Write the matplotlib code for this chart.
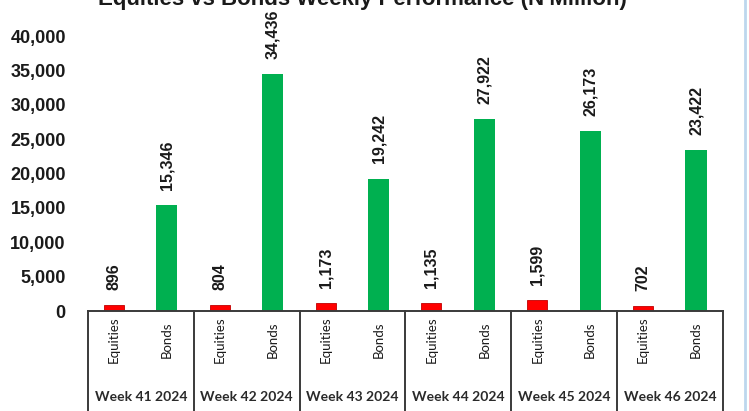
import matplotlib.pyplot as plt
import matplotlib.transforms as mtransforms

# ------------------------------------ Data ------------------------------------
weeks = ['Week 41 2024', 'Week 42 2024', 'Week 43 2024',
         'Week 44 2024', 'Week 45 2024', 'Week 46 2024']
equities = [896, 804, 1173, 1135, 1599, 702]
bonds = [15346, 34436, 19242, 27922, 26173, 23422]
y_ticks = [0, 5000, 10000, 15000, 20000, 25000, 30000, 35000, 40000]

# ----------------------------------- Figure -----------------------------------
W, H = 749, 411
fig = plt.figure(figsize=(W / 100, H / 100), dpi=100)
ax = fig.add_axes([88 / W, (H - 311) / H, (723 - 88) / W, (311 - 36) / H])

red = '#ff0000'
green = '#00b050'
line_col = '#3a3a3a'

x = [i + 0.5 for i in range(len(weeks))]
x_eq = [v - 0.255 for v in x]
x_bd = [v + 0.245 for v in x]

ax.bar(x_eq, equities, width=0.19, color=red, edgecolor='#c00000', linewidth=0.6)
ax.bar(x_bd, bonds, width=0.2, color=green)

# value labels
for xs, vals in ((x_eq, equities), (x_bd, bonds)):
    for xi, v in zip(xs, vals):
        ax.annotate(f'{v:,}', (xi, v), xytext=(0, 11), textcoords='offset points',
                    rotation=90, ha='center', va='bottom', fontsize=11.5,
                    fontweight='bold', family='Liberation Sans', color='#1a1a1a',
                    annotation_clip=False)

ax.set_xlim(0, len(weeks))
ax.set_ylim(0, 40000)
ax.set_yticks(y_ticks)
ax.set_yticklabels([f'{t:,}' for t in y_ticks], family='Liberation Sans',
                   fontweight='bold', fontsize=13, color='#1a1a1a')
ax.tick_params(axis='y', length=0, pad=16)
ax.set_xticks([])

for s in ('left', 'top', 'right'):
    ax.spines[s].set_visible(False)
ax.spines['bottom'].set_color(line_col)
ax.spines['bottom'].set_linewidth(1.4)

# category box under the axis
trans = mtransforms.blended_transform_factory(ax.transData, ax.transAxes)
bottom = -(311 - 0) / (311 - 36)
for b in range(len(weeks) + 1):
    ax.plot([b, b], [0, bottom], transform=trans, color=line_col,
            linewidth=1.4, clip_on=False)

y_sub = -(340 - 311) / (311 - 36)
y_week = -(397 - 311) / (311 - 36)
for i, wk in enumerate(weeks):
    ax.text(x_eq[i], y_sub, 'Equities', transform=trans, rotation=90,
            ha='center', va='center', fontsize=9.5, family='Lato', color='#1a1a1a')
    ax.text(x_bd[i], y_sub, 'Bonds', transform=trans, rotation=90,
            ha='center', va='center', fontsize=9.5, family='Lato', color='#1a1a1a')
    ax.text(x[i], y_week, wk, transform=trans, ha='center', va='center',
            fontsize=10, fontweight='bold', family='Lato', color='#2a2a2a')

# title, cut off at the top edge like the source
fig.text(362 / W, 1.0, "Equities vs Bonds Weekly Performance (N'Million)",
         ha='center', va='center', fontsize=16, fontweight='bold',
         family='Liberation Sans', color='#1a1a1a')

# light blue frame edge at the right
fig.add_artist(plt.Line2D([745 / W, 745 / W], [0, 1], transform=fig.transFigure,
                          color='#bdd7ee', linewidth=2))

fig.savefig('out.png', dpi=100)
